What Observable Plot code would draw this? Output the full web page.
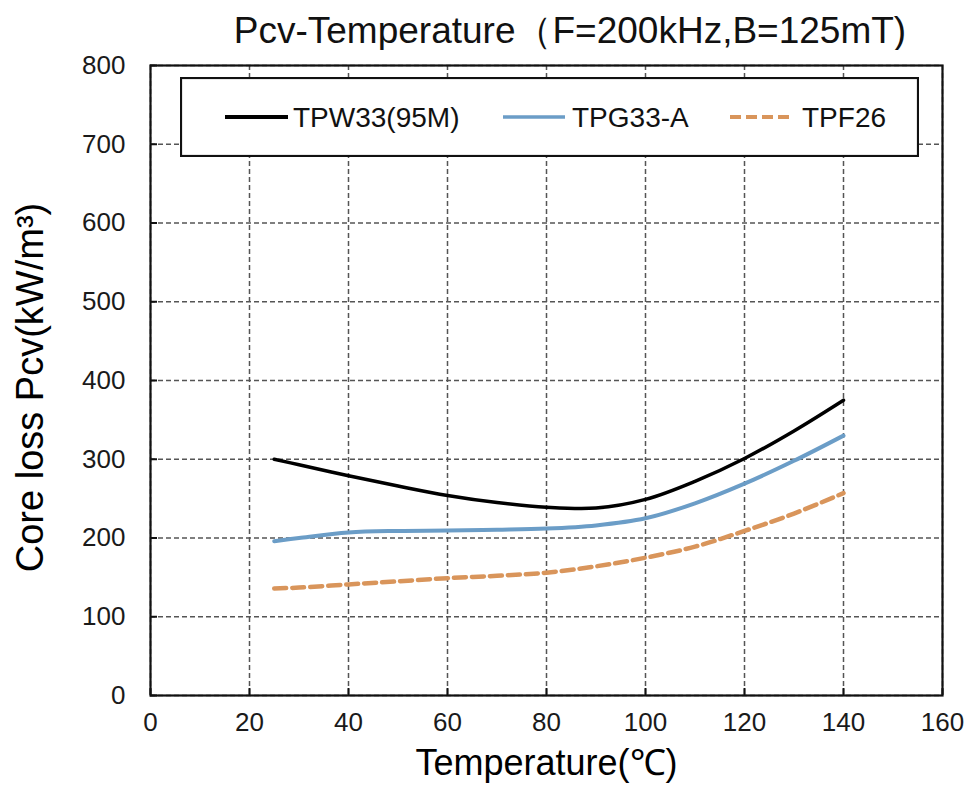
<!DOCTYPE html>
<html>
<head>
<meta charset="utf-8">
<script src="https://cdn.jsdelivr.net/npm/d3@7"></script>
<script src="https://cdn.jsdelivr.net/npm/@observablehq/plot@0.6"></script>
<style>
  body { margin: 0; background: #fff; font-family: "Liberation Sans", Arial, sans-serif; }
  #wrap { position: relative; width: 968px; height: 790px; overflow: hidden; }
  #title { position: absolute; left: 0; top: 0; width: 968px; height: 50px; }
  #title span { position: absolute; top: 12px; font-size: 37px; color: #111; white-space: pre; line-height: 1; }
  #chart { position: absolute; left: 0; top: 50px; }
  #legend { position: absolute; left: 180px; top: 77px; }
</style>
</head>
<body>
<div id="wrap">
  <div id="title"></div>
  <div id="chart"></div>
  <div id="legend"></div>
</div>
<script>
// ---- data ----
const titleText = "Pcv-Temperature（F=200kHz,B=125mT)";
const xLabel = "Temperature(℃)";
const yLabel = "Core loss Pcv(kW/m³)";
const xTicks = [0, 20, 40, 60, 80, 100, 120, 140, 160];
const yTicks = [0, 100, 200, 300, 400, 500, 600, 700, 800];
const seriesNames = ["TPW33(95M)", "TPG33-A", "TPF26"];
const seriesColors = ["#000000", "#6b9dc7", "#d9955b"];
const temps = [25, 30, 40, 50, 60, 70, 80, 90, 100, 110, 120, 130, 140];
const tpw33 = [300, 293, 279, 266, 254, 245, 239, 238, 249, 272, 301, 336, 375];
const tpg33 = [196, 200, 207, 209, 209.5, 210.5, 212, 216, 225, 244, 269, 298, 330];
const tpf26 = [136, 137, 141, 145, 149, 152, 156, 164, 175, 189, 209, 231, 257];

const seriesValues = [tpw33, tpg33, tpf26];
const rows = seriesNames.flatMap((s, i) => temps.map((t, j) => ({series: s, t, v: seriesValues[i][j]})));

// ---- title ----
const title = document.getElementById("title");
const tspan = document.createElement("span");
tspan.textContent = titleText;
title.appendChild(tspan);

const font = '"Liberation Sans", Arial, sans-serif';
const gridStyle = {stroke: "#555", strokeOpacity: 1, strokeWidth: 1.5, strokeDasharray: "5,3"};

const chart = Plot.plot({
  width: 968,
  height: 740,
  marginTop: 15,
  marginBottom: 95,
  marginLeft: 150,
  marginRight: 26,
  style: {fontFamily: font, fontSize: "26px", color: "#1a1a1a", background: "white", overflow: "visible"},
  x: {domain: [0, 160]},
  y: {domain: [0, 800]},
  marks: [
    Plot.gridX(xTicks, gridStyle),
    Plot.gridY(yTicks, gridStyle),
    Plot.axisX(xTicks, {tickSize: 7, dy: -7, text: null, label: null, strokeWidth: 2, stroke: "#111"}),
    Plot.axisY(yTicks, {tickSize: 7, dx: 7, text: null, label: null, strokeWidth: 2, stroke: "#111"}),
    Plot.axisX(xTicks, {tickSize: 0, tickPadding: 17, label: null, fontSize: 26}),
    Plot.axisY(yTicks, {tickSize: 0, tickPadding: 25, label: null, fontSize: 26}),
    Plot.text([xLabel], {frameAnchor: "bottom", dy: 79, fontSize: 36, fill: "#000"}),
    Plot.text([yLabel], {frameAnchor: "left", textAnchor: "middle", rotate: -90, dx: -120, dy: 7, fontSize: 38, fill: "#000"}),
    Plot.line(rows.filter(d => d.series === seriesNames[0]), {x: "t", y: "v", stroke: seriesColors[0], strokeWidth: 3.5, curve: "catmull-rom"}),
    Plot.line(rows.filter(d => d.series === seriesNames[1]), {x: "t", y: "v", stroke: seriesColors[1], strokeWidth: 4, curve: "catmull-rom"}),
    Plot.line(rows.filter(d => d.series === seriesNames[2]), {x: "t", y: "v", stroke: seriesColors[2], strokeWidth: 4.5, strokeDasharray: "12,6", curve: "catmull-rom"}),
    Plot.frame({stroke: "#111", strokeWidth: 2.2})
  ]
});
document.getElementById("chart").appendChild(chart);

// center title over x ≈ 570
const w = tspan.getBoundingClientRect().width;
tspan.style.left = (570 - w / 2) + "px";

// ---- legend ----
const lw = 739, lh = 80;
const legend = d3.select("#legend").append("svg").attr("width", lw).attr("height", lh);
legend.append("rect").attr("x", 1).attr("y", 1).attr("width", lw - 2).attr("height", lh - 2)
  .attr("fill", "white").attr("stroke", "#111").attr("stroke-width", 2.2);
const items = [
  {x1: 45, x2: 108, tx: 113, w: 4, dash: null},
  {x1: 323, x2: 385, tx: 392, w: 3.5, dash: null},
  {x1: 550, x2: 613, tx: 622, w: 4, dash: "11,5"}
];
items.forEach((it, i) => {
  legend.append("line").attr("x1", it.x1).attr("x2", it.x2).attr("y1", 40).attr("y2", 40)
    .attr("stroke", seriesColors[i]).attr("stroke-width", it.w).attr("stroke-dasharray", it.dash);
  legend.append("text").attr("x", it.tx).attr("y", 50).attr("font-size", 28)
    .attr("font-family", font).attr("fill", "#111").text(seriesNames[i]);
});
</script>
</body>
</html>
